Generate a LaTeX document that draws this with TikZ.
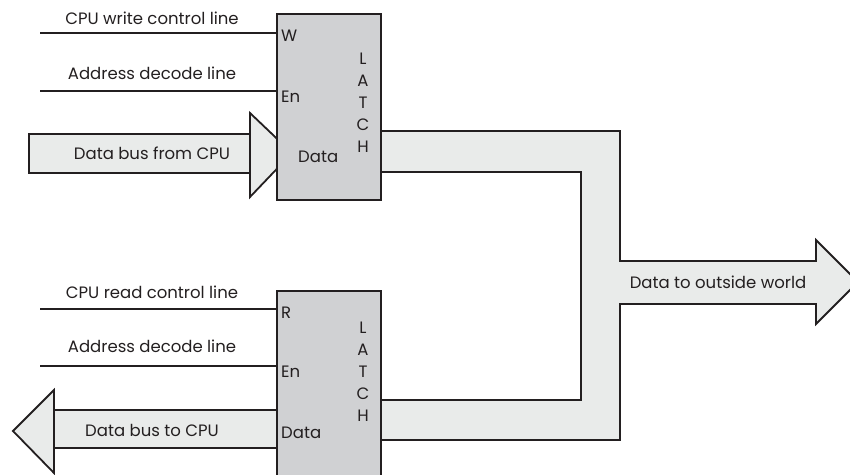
\documentclass[tikz,border=0pt]{standalone}
\usepackage{fontspec}
\setmainfont{Poppins}
\usepackage{xcolor}
\usepackage{tikz}
\usetikzlibrary{calc,positioning}
\definecolor{inkc}{HTML}{231F20}
\definecolor{latchc}{HTML}{D0D1D3}
\definecolor{busc}{HTML}{E9EBEA}
\tikzset{
  ln/.style={inkc,line width=1.8pt},
  latch/.style={draw=inkc,line width=1.8pt,fill=latchc,minimum width=104pt,inner sep=0pt},
  bus/.style={fill=busc,draw=inkc,line width=1.8pt,line join=miter},
  lbl/.style={font=\fontsize{16.5}{16.5}\selectfont,text=inkc,inner sep=0pt},
  pin/.style={lbl,anchor=west},
  ltr/.style={lbl,align=center,font=\fontsize{16.5}{22}\selectfont}
}

\begin{document}
\begin{tikzpicture}[x=1pt,y=-1pt]
\useasboundingbox (0,0) rectangle (850,474);
\clip (0,0) rectangle (850,474);
% bus from both latches to the outside world
\fill[busc] (381,131) -- (620,131) -- (620,261) -- (816,261) -- (816,240) -- (858,282)
  -- (816,324) -- (816,304) -- (620,304) -- (620,440) -- (381,440) -- (381,400)
  -- (581,400) -- (581,172) -- (381,172) -- cycle;
\draw[ln,line join=miter] (381,131) -- (620,131) -- (620,261) -- (816,261) -- (816,240) -- (858,282)
  -- (816,324) -- (816,304) -- (620,304) -- (620,440) -- (381,440);
\draw[ln] (381,400) -- (581,400) -- (581,172) -- (381,172);
\node[lbl] (outw) at (718,282) {Data to outside world};
% input bus
\draw[bus] (250,134) -- (29,134) -- (29,173) -- (250,173);
\draw[bus] (250,113) -- (292,153) -- (250,197) -- cycle;
\node[lbl] (busin) at (152,153) {Data bus from CPU};
% output bus
\draw[bus] (277,410) -- (54,410) -- (54,448) -- (277,448);
\draw[bus] (54,390) -- (13,431) -- (54,473) -- cycle;
\node[lbl] (busout) at (152,430) {Data bus to CPU};
% latches
\node[latch,minimum height=186pt] (wlatch) at (329,107) {};
\node[latch,minimum height=200pt,anchor=north] (rlatch) at (329,290) {};
\node[ltr] at (363,103) {L\\A\\T\\C\\H};
\node[ltr] at (363,372) {L\\A\\T\\C\\H};
% write latch inputs
\coordinate (wa) at (40,33);
\coordinate (wb) at (40,91);
\draw[ln] (wa) -- (wa -| wlatch.west);
\draw[ln] (wb) -- (wb -| wlatch.west);
\node[lbl] (wtxt) at (152,18) {CPU write control line};
\node[lbl] (wdec) at (152,73) {Address decode line};
\node[pin] (pw) at (281,36) {W};
\node[pin] (pwen) at (281,97) {En};
\node[pin] (pwd) at (298,157) {Data};
% read latch inputs
\coordinate (ra) at (40,309);
\coordinate (rb) at (40,366);
\draw[ln] (ra) -- (ra -| rlatch.west);
\draw[ln] (rb) -- (rb -| rlatch.west);
\node[lbl] (rtxt) at (152,292) {CPU read control line};
\node[lbl] (rdec) at (152,346) {Address decode line};
\node[pin] (pr) at (281,313) {R};
\node[pin] (pren) at (281,372) {En};
\node[pin] (prd) at (281,433) {Data};
\end{tikzpicture}
\end{document}
